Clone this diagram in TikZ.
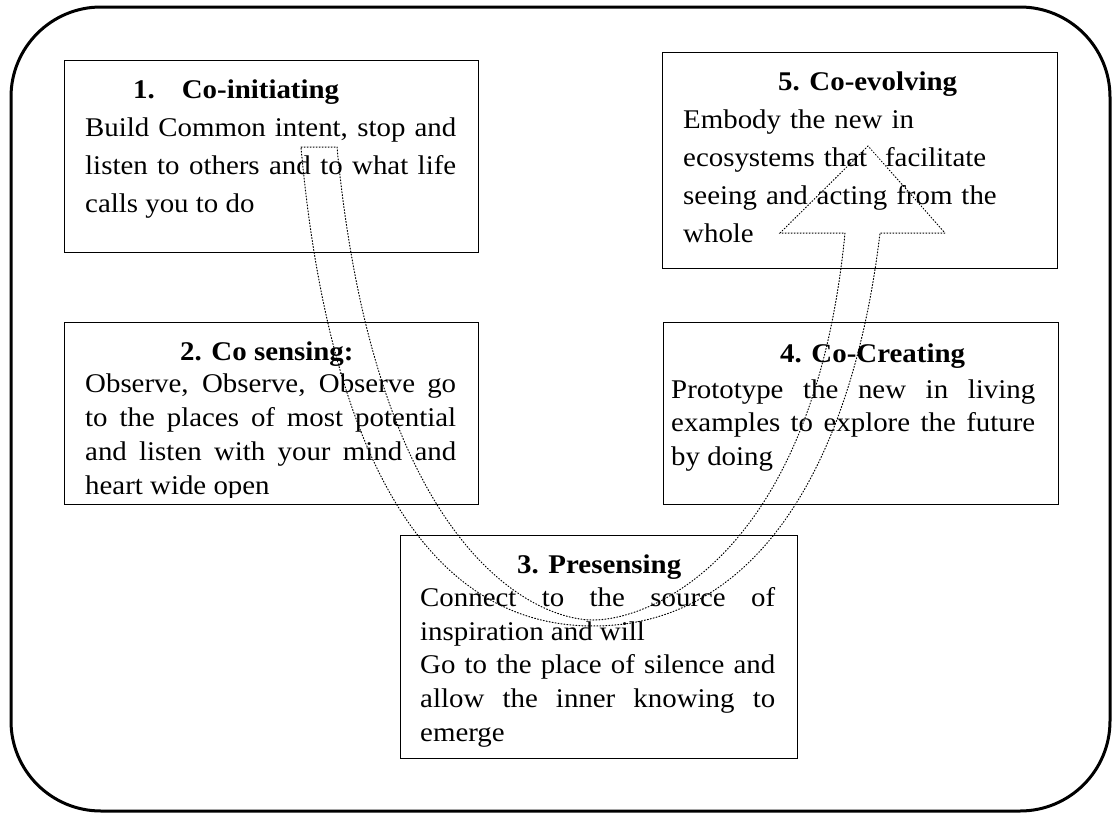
\documentclass[tikz,border=0pt]{standalone}
\usepackage{fontspec}
\setmainfont{Liberation Serif}[FakeStretch=1.07]
\setlength{\parindent}{0pt}
\tikzset{
  box/.style={draw,line width=1.2pt,inner sep=0pt,anchor=north west},
  head/.style={font=\fontsize{27}{30}\selectfont\bfseries,inner sep=0pt,anchor=base west},
  body/.style={inner sep=0pt,anchor=north west,align=justify},
  uarrow/.style={dotted,line width=1pt},
}
\newcommand{\firstline}{\rule{0pt}{22pt}}
\begin{document}
\begin{tikzpicture}[x=1pt,y=-1pt,line cap=round]
    \useasboundingbox (0,0) rectangle (1112,814);
    \draw[line width=3pt,rounded corners=90pt] (11,7) rectangle (1110,811);
    \foreach \n/\x/\y/\w/\h in {1/64/60/414/192,2/64/322/414/182,3/400/535/397/223,4/663/322/395/182,5/662/52/395/216}
      \node[box,minimum width=\w pt,minimum height=\h pt] (b\n) at (\x,\y) {};
    \foreach \n/\x/\y/\lab in {1/133/98/{1.\hspace{27pt}Co-initiating},2/180/360/2. Co sensing:,3/517/573/3. Presensing,4/780/362/4. Co-Creating,5/778/90/5. Co-evolving}
      \node[head] (h\n) at (\x,\y) {\lab};
    \node[body,text width=371pt,font=\fontsize{27}{38}\selectfont] (t1) at (85,114)
      {\firstline Build Common intent, stop and\linebreak listen to others and to what life\linebreak calls you to do};
    \begin{scope}
      \clip (b2.north west) rectangle ([yshift=8pt]b2.south east);
      \node[body,text width=371pt,font=\fontsize{27}{33.7}\selectfont] (t2) at (85,370.7)
        {\firstline Observe, Observe, Observe go\linebreak to the places of most potential\linebreak and listen with your mind and\linebreak heart wide open};
    \end{scope}
    \node[body,text width=355pt,font=\fontsize{27}{33.8}\selectfont] (t3) at (420,584)
      {\firstline Connect to the source of\linebreak inspiration and will\newline Go to the place of silence and\linebreak allow the inner knowing to\linebreak emerge};
    \node[body,text width=364pt,font=\fontsize{27}{33.5}\selectfont] (t4) at (671,376)
      {\firstline Prototype the new in living\linebreak examples to explore the future\linebreak by doing};
    \node[body,text width=364pt,align=left,font=\fontsize{27}{38}\selectfont] (t5) at (683,106)
      {\firstline Embody the new in\newline ecosystems that\ \ facilitate\newline seeing and acting from the\newline whole};
    \draw[uarrow] (301,147) -- (337,147)
      .. controls (375,547) and (533,620) .. (593,620)
      .. controls (653,620) and (814,553) .. (845,233)
      -- (780,233) -- (868,146) -- (945,233) -- (880,233)
      .. controls (854,453) and (763,626) .. (593,626)
      .. controls (423,626) and (328,447) .. (301,147) -- cycle;
\end{tikzpicture}
\end{document}
